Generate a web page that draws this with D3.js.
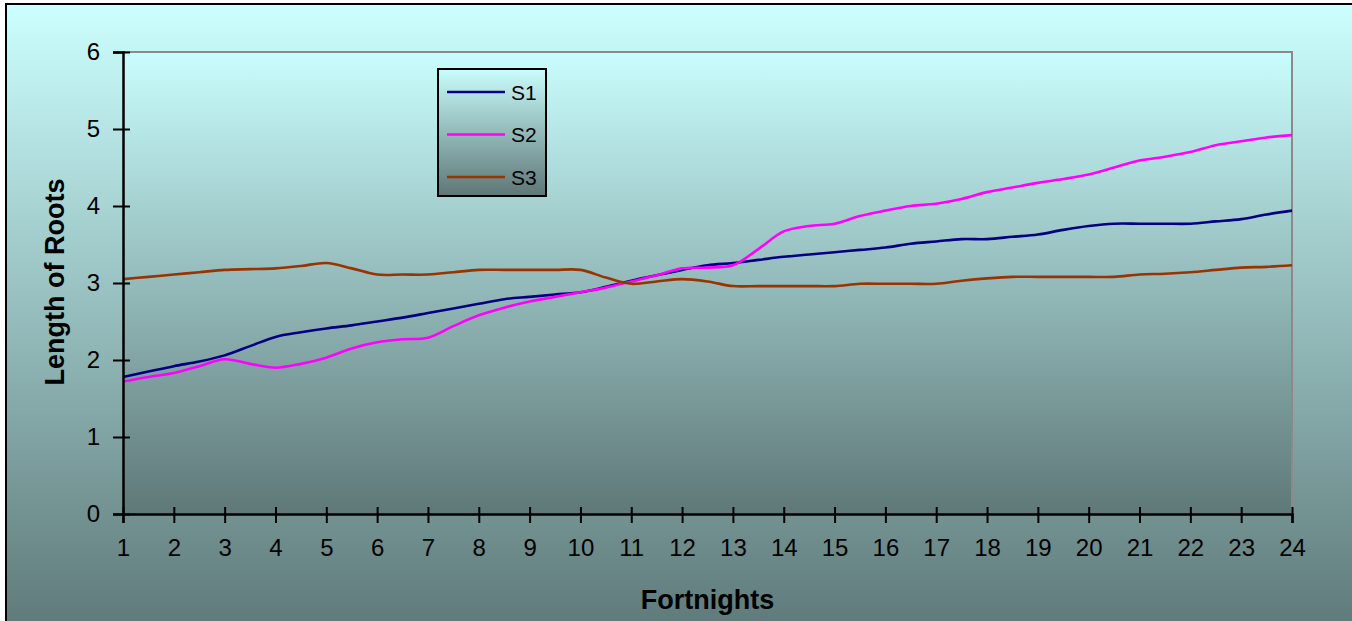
<!DOCTYPE html>
<html>
<head>
<meta charset="utf-8">
<script src="https://cdn.jsdelivr.net/npm/d3@7"></script>
<style>
  html, body { margin: 0; padding: 0; background: #ffffff; }
  svg { display: block; font-family: Arial, "Liberation Sans", sans-serif; }
</style>
</head>
<body>
<svg id="chart" width="1352" height="621"></svg>
<script>
// Fortnight positions (readings every half fortnight)
const fortnights = [1, 1.5, 2, 2.5, 3, 3.5, 4, 4.5, 5, 5.5, 6, 6.5, 7, 7.5, 8, 8.5, 9, 9.5, 10, 10.5,
  11, 11.5, 12, 12.5, 13, 13.5, 14, 14.5, 15, 15.5, 16, 16.5, 17, 17.5, 18, 18.5, 19, 19.5, 20, 20.5,
  21, 21.5, 22, 22.5, 23, 23.5, 24];

const s1 = [1.78, 1.85, 1.92, 1.98, 2.06, 2.18, 2.30, 2.36, 2.41, 2.45, 2.50, 2.55, 2.61, 2.67, 2.73, 2.79,
  2.82, 2.85, 2.88, 2.95, 3.03, 3.10, 3.17, 3.23, 3.26, 3.30, 3.34, 3.37, 3.40, 3.43, 3.46, 3.51,
  3.54, 3.57, 3.57, 3.60, 3.63, 3.69, 3.74, 3.77, 3.77, 3.77, 3.77, 3.80, 3.83, 3.89, 3.94];

const s2 = [1.72, 1.78, 1.83, 1.92, 2.01, 1.95, 1.90, 1.95, 2.03, 2.15, 2.23, 2.27, 2.29, 2.44, 2.58, 2.68,
  2.76, 2.82, 2.88, 2.94, 3.02, 3.10, 3.19, 3.20, 3.23, 3.44, 3.67, 3.74, 3.77, 3.87, 3.94, 4.00,
  4.03, 4.09, 4.18, 4.24, 4.30, 4.35, 4.41, 4.50, 4.59, 4.64, 4.70, 4.79, 4.84, 4.89, 4.92];

const s3 = [3.05, 3.08, 3.11, 3.14, 3.17, 3.18, 3.19, 3.22, 3.26, 3.19, 3.11, 3.11, 3.11, 3.14, 3.17, 3.17,
  3.17, 3.17, 3.17, 3.07, 2.99, 3.02, 3.05, 3.02, 2.96, 2.96, 2.96, 2.96, 2.96, 2.99, 2.99, 2.99,
  2.99, 3.03, 3.06, 3.08, 3.08, 3.08, 3.08, 3.08, 3.11, 3.12, 3.14, 3.17, 3.20, 3.21, 3.23];

const seriesNames = ["S1", "S2", "S3"];
const seriesColors = ["#000080", "#ff00ff", "#993300"];
const xTicks = [1, 2, 3, 4, 5, 6, 7, 8, 9, 10, 11, 12, 13, 14, 15, 16, 17, 18, 19, 20, 21, 22, 23, 24];
const yTicks = [0, 1, 2, 3, 4, 5, 6];

const series = [s1, s2, s3].map((vals, i) => ({
  name: seriesNames[i],
  color: seriesColors[i],
  points: vals.map((v, j) => ({ x: fortnights[j], y: v }))
}));

const svg = d3.select("#chart");
const W = 1352, H = 621;
const plot = { left: 123, right: 1292, top: 52, bottom: 514 };

const defs = svg.append("defs");
function vGradient(id, top, bottom) {
  const g = defs.append("linearGradient").attr("id", id)
    .attr("x1", 0).attr("y1", 0).attr("x2", 0).attr("y2", 1);
  g.append("stop").attr("offset", "0%").attr("stop-color", top);
  g.append("stop").attr("offset", "100%").attr("stop-color", bottom);
}
vGradient("bgGrad", "#ccffff", "#5c7676");
vGradient("plotGrad", "#c9fdfd", "#5f7878");
vGradient("legendGrad", "#c9fdfd", "#5e7676");

// Chart background and frame
svg.append("rect").attr("x", 0).attr("y", 0).attr("width", W).attr("height", H).attr("fill", "#ffffff");
svg.append("rect")
  .attr("x", 6).attr("y", 4).attr("width", W + 20).attr("height", H + 20)
  .attr("fill", "url(#bgGrad)").attr("stroke", "#000").attr("stroke-width", 2);

// Plot area
svg.append("rect")
  .attr("x", plot.left).attr("y", plot.top)
  .attr("width", plot.right - plot.left).attr("height", plot.bottom - plot.top)
  .attr("fill", "url(#plotGrad)");
svg.append("path")
  .attr("d", `M${plot.left},${plot.top}H${plot.right}V${plot.bottom}`)
  .attr("fill", "none").attr("stroke", "#8a8a8a").attr("stroke-width", 2);

const x = d3.scaleLinear().domain([1, 24]).range([plot.left, plot.right]);
const y = d3.scaleLinear().domain([0, 6]).range([plot.bottom, plot.top]);

// Lines
const line = d3.line()
  .x(d => x(d.x)).y(d => y(d.y))
  .curve(d3.curveCatmullRom.alpha(0.5));

svg.append("g").selectAll("path")
  .data(series)
  .join("path")
  .attr("d", d => line(d.points))
  .attr("fill", "none")
  .attr("stroke", d => d.color)
  .attr("stroke-width", 2.6)
  .attr("stroke-linejoin", "round");

// Y axis (cross tick marks)
const yAxis = svg.append("g")
  .attr("transform", `translate(${plot.left},0)`)
  .call(d3.axisLeft(y).tickValues(yTicks).tickFormat(d3.format("d")).tickSizeOuter(0).tickSize(10).tickPadding(13));
yAxis.select(".domain").attr("stroke", "#000").attr("stroke-width", 2.5);
yAxis.selectAll(".tick line").attr("x2", 7).attr("x1", -10).attr("stroke", "#000").attr("stroke-width", 2);
yAxis.selectAll(".tick text").attr("font-size", 24).attr("fill", "#000")
  .attr("font-family", "Arial, 'Liberation Sans', sans-serif");

// X axis (cross tick marks)
const xAxis = svg.append("g")
  .attr("transform", `translate(0,${plot.bottom})`)
  .call(d3.axisBottom(x).tickValues(xTicks).tickFormat(d3.format("d")).tickSizeOuter(0).tickSize(9).tickPadding(16));
xAxis.select(".domain").attr("stroke", "#000").attr("stroke-width", 2.5);
xAxis.selectAll(".tick line").attr("y1", -7).attr("y2", 9).attr("stroke", "#000").attr("stroke-width", 2);
xAxis.selectAll(".tick text").attr("font-size", 24).attr("fill", "#000")
  .attr("font-family", "Arial, 'Liberation Sans', sans-serif");

// Axis titles
svg.append("text")
  .attr("x", (plot.left + plot.right) / 2).attr("y", 609)
  .attr("text-anchor", "middle")
  .attr("font-size", 27).attr("font-weight", "bold").attr("fill", "#000")
  .text("Fortnights");

svg.append("text")
  .attr("transform", `translate(64,${(plot.top + plot.bottom) / 2 - 1}) rotate(-90)`)
  .attr("text-anchor", "middle")
  .attr("font-size", 27).attr("font-weight", "bold").attr("fill", "#000")
  .text("Length of Roots");

// Legend
const legend = svg.append("g").attr("transform", "translate(438,69)");
legend.append("rect")
  .attr("width", 108).attr("height", 127)
  .attr("fill", "url(#legendGrad)").attr("stroke", "#000").attr("stroke-width", 2);
const items = legend.selectAll("g.item")
  .data(series)
  .join("g").attr("class", "item")
  .attr("transform", (d, i) => `translate(0,${23 + i * 42.5})`);
items.append("line")
  .attr("x1", 9).attr("x2", 67).attr("y1", 0).attr("y2", 0)
  .attr("stroke", d => d.color).attr("stroke-width", 2.6);
items.append("text")
  .attr("x", 73).attr("y", 7.5)
  .attr("font-size", 21).attr("fill", "#000")
  .text(d => d.name);
</script>
</body>
</html>
